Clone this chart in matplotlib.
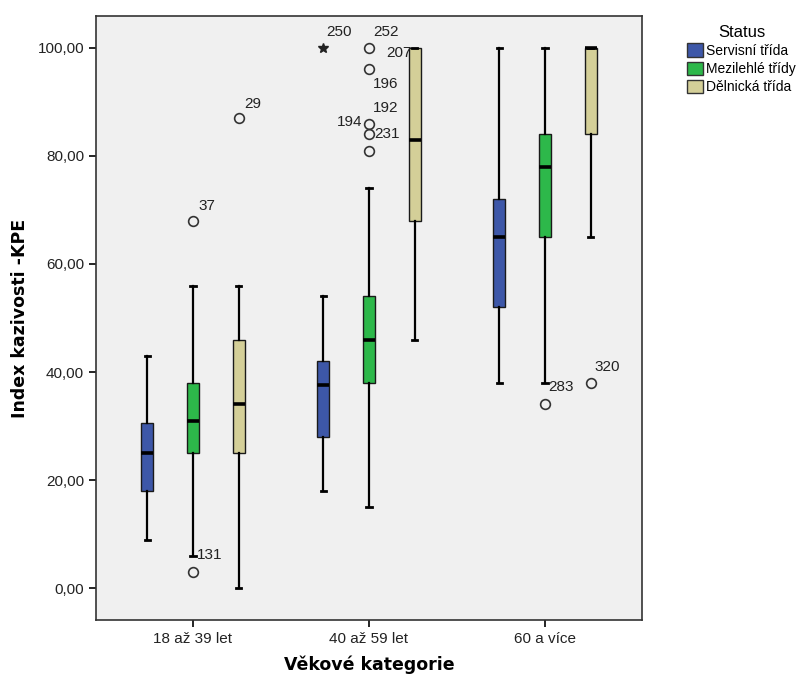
import numpy as np
import matplotlib
matplotlib.use('Agg')
import matplotlib.pyplot as plt
from matplotlib.patches import Patch

plt.rcParams['font.family'] = ['Liberation Sans', 'DejaVu Sans']

# age groups and social status
categories = ['18 až 39 let', '40 až 59 let', '60 a více']
statuses = ['Servisní třída', 'Mezilehlé třídy', 'Dělnická třída']
colors = ['#3d57a8', '#2db84a', '#d4cf98']

# five-number summaries per status, one value per age group
whis_lo = [[9, 18, 38], [6, 15, 38], [0, 46, 65]]
q1 = [[18, 28, 52], [25, 38, 65], [25, 68, 84]]
median = [[25, 37.6, 65], [31, 46, 78], [34, 83, 100]]
q3 = [[30.5, 42, 72], [38, 54, 84], [46, 100, 100]]
whis_hi = [[43, 54, 100], [56, 74, 100], [56, 100, 100]]

# outliers: (status index, group index, value, label, label offset px)
outliers = [
    (1, 0, 68, '37', (5, 15)),
    (1, 0, 3, '', None),
    (2, 0, 87, '29', (6, 14)),
    (1, 1, 100, '252', (4, 16)),
    (1, 1, 96, '196', (4, -15)),
    (1, 1, 86, '192', (4, 16)),
    (1, 1, 84, '231', (5, 0)),
    (1, 1, 81, '', None),
    (1, 2, 34, '283', (3, 17)),
    (2, 2, 38, '320', (4, 16)),
]
extremes = [(0, 1, 100, '250', (3, 16))]
# extra labels tied to existing points: (status, group, value, label, offset, ha)
extra_labels = [
    (1, 1, 100, '207', (17, -5), 'left'),
    (1, 1, 86, '194', (-7, 2), 'right'),
    (1, 0, 3, '131', (4, 17), 'left'),
]

offsets = [-0.26, 0.0, 0.26]
box_w = 0.07
px = 0.72  # points per pixel at dpi 100

fig = plt.figure(figsize=(8.02, 6.82), dpi=100)
ax = fig.add_axes([96 / 802, 62 / 682, 546 / 802, 604 / 682])
ax.set_facecolor('#f0f0f0')

for s in range(3):
    stats = []
    for g in range(3):
        stats.append(dict(med=median[s][g], q1=q1[s][g], q3=q3[s][g],
                          whislo=whis_lo[s][g], whishi=whis_hi[s][g], fliers=[]))
    pos = [g + offsets[s] for g in range(3)]
    ax.bxp(stats, positions=pos, widths=box_w, capwidths=0.03,
           showfliers=False, patch_artist=True, manage_ticks=False,
           boxprops=dict(facecolor=colors[s], edgecolor='#1a1a1a', linewidth=1.0),
           medianprops=dict(color='black', linewidth=2.6, solid_capstyle='butt'),
           whiskerprops=dict(color='black', linewidth=1.6),
           capprops=dict(color='black', linewidth=2.0))

def label_at(x, y, text, off, ha='left'):
    ax.annotate(text, (x, y), xytext=(off[0] * px, off[1] * px),
                textcoords='offset points', ha=ha, va='center',
                fontsize=11, color='#222222')

for s, g, v, lab, off in outliers:
    x = g + offsets[s]
    ax.plot(x, v, 'o', ms=7, mfc='none', mec='#333333', mew=1.2)
    if lab:
        label_at(x, v, lab, off)

for s, g, v, lab, off in extremes:
    x = g + offsets[s]
    ax.plot(x, v, '*', ms=7, color='#222222')
    label_at(x, v, lab, off)

for s, g, v, lab, off, ha in extra_labels:
    label_at(g + offsets[s], v, lab, off, ha)

ax.set_xlim(-0.551, 2.551)
ax.set_ylim(-5.9, 105.9)
ax.set_xticks(range(3))
ax.set_xticklabels(categories, fontsize=11)
yt = np.arange(0, 101, 20)
ax.set_yticks(yt)
ax.set_yticklabels([f'{v:.2f}'.replace('.', ',') for v in yt], fontsize=11)
ax.tick_params(direction='out', length=5, width=1.2, colors='black', labelcolor='#222222')
for sp in ax.spines.values():
    sp.set_color('#333333')
    sp.set_linewidth(1.2)

ax.set_xlabel('Věkové kategorie', family='DejaVu Sans', fontweight='bold', fontsize=12.5, labelpad=7)
ax.set_ylabel('Index kazivosti -KPE', family='DejaVu Sans', fontweight='bold', fontsize=12.5, labelpad=6)

handles = [Patch(facecolor=c, edgecolor='#333333') for c in colors]
leg = fig.legend(handles, statuses, title='Status', loc='upper left',
                 bbox_to_anchor=(687 / 802, 1 - 25 / 682), frameon=False,
                 fontsize=10, title_fontsize=12, handlelength=1.15, handleheight=1.15,
                 handletextpad=0.25, labelspacing=0.25, borderaxespad=0, borderpad=0)

fig.savefig('out.png', dpi=100)
